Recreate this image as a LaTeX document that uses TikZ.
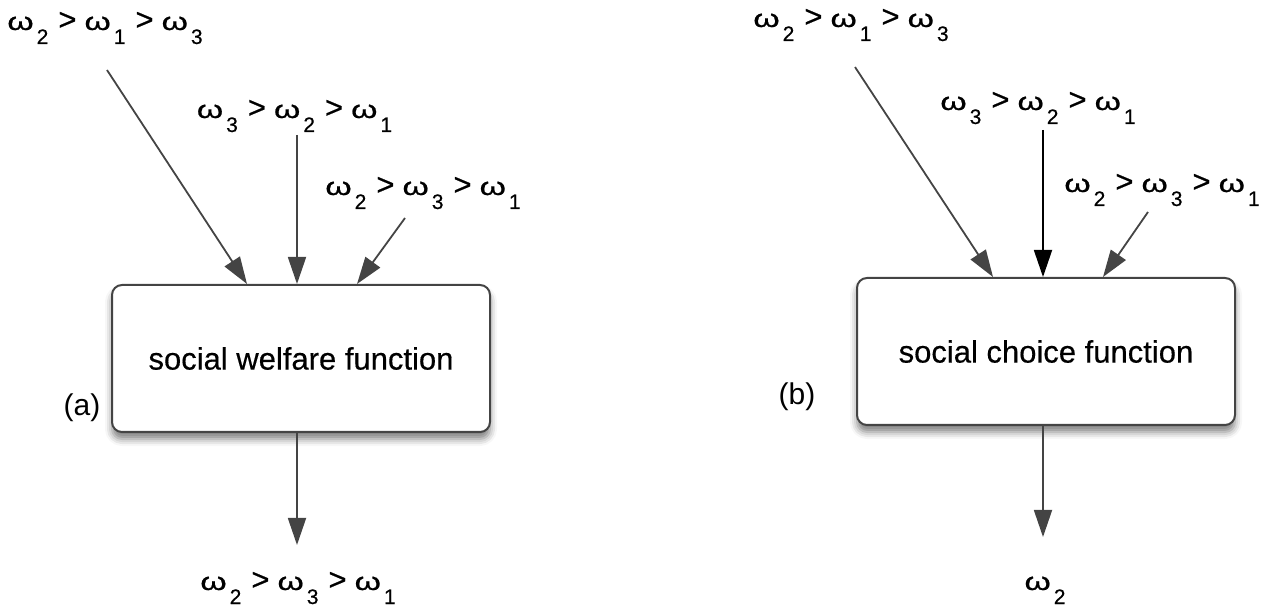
\documentclass[tikz,border=0pt]{standalone}
\usepackage{fontspec}
\setmainfont{Liberation Sans}
\usetikzlibrary{arrows.meta,shadows.blur}

\definecolor{linegray}{HTML}{444444}

\newcommand{\om}[1]{\scalebox{1.35}[1]{ω}\kern3pt\raisebox{-14pt}{\fontsize{21}{21}\selectfont #1}}
\newcommand{\gtsep}{\hspace{10pt}{\fontsize{31}{31}\selectfont >}\hspace{8pt}}

\tikzset{
  fnbox/.style={draw=linegray, line width=2pt, rounded corners=10pt, fill=white,
    minimum width=378pt, minimum height=147pt,
    font=\fontsize{31}{36}\selectfont\addfontfeature{FakeBold=0.4},
    blur shadow={shadow xshift=0pt, shadow yshift=-7pt, shadow blur radius=7pt, shadow opacity=50}},
  pref/.style={anchor=base, inner sep=0pt, font=\fontsize{25}{28}\selectfont\addfontfeature{FakeBold=0.5}},
  tag/.style={inner sep=0pt, font=\fontsize{30}{36}\selectfont},
  arr/.style={draw=linegray, line width=1.8pt, -{Triangle[length=27pt,width=18pt]}},
}

\begin{document}
\begin{tikzpicture}[x=1pt, y=-1pt]

\useasboundingbox (0,0) rectangle (1262,609);

% (a) social welfare function
\begin{scope}

\node [fnbox] (swf) at (301,358.5) {social welfare function};
\node [tag] (taga) at (82,408) {(a)};

\node [pref] (pa1) at (105,30) {\om{2}\gtsep\om{1}\gtsep\om{3}};
\node [pref] (pa2) at (294.5,118) {\om{3}\gtsep\om{2}\gtsep\om{1}};
\node [pref] (pa3) at (423,195) {\om{2}\gtsep\om{3}\gtsep\om{1}};
\node [pref] (outa) at (298,590) {\om{2}\gtsep\om{3}\gtsep\om{1}};

\coordinate (sa1) at (107,70);
\coordinate (sa2) at (297,135);
\coordinate (sa3) at (405,218);
\coordinate (ea) at (297,545);

\draw [arr] (sa1) -- ([xshift=-54pt]swf.north);
\draw [arr] (sa2) -- ([xshift=-4pt]swf.north);
\draw [arr] (sa3) -- ([xshift=56pt]swf.north);
\draw [arr] ([xshift=-4pt]swf.south) -- (ea);

\end{scope}

% (b) social choice function
\begin{scope}

\node [fnbox] (scf) at (1046,351.5) {social choice function};
\node [tag] (tagb) at (797,397) {(b)};

\node [pref] (pb1) at (851,27) {\om{2}\gtsep\om{1}\gtsep\om{3}};
\node [pref] (pb2) at (1038,110) {\om{3}\gtsep\om{2}\gtsep\om{1}};
\node [pref] (pb3) at (1162,192) {\om{2}\gtsep\om{3}\gtsep\om{1}};
\node [pref] (outb) at (1045,590) {\om{2}};

\coordinate (sb1) at (855,67);
\coordinate (sb2) at (1043,130);
\coordinate (sb3) at (1148,212);
\coordinate (eb) at (1043,537);

\draw [arr] (sb1) -- ([xshift=-53pt]scf.north);
\draw [arr, draw=black] (sb2) -- ([xshift=-3pt]scf.north);
\draw [arr] (sb3) -- ([xshift=57pt]scf.north);
\draw [arr] ([xshift=-3pt]scf.south) -- (eb);

\end{scope}

\end{tikzpicture}
\end{document}
